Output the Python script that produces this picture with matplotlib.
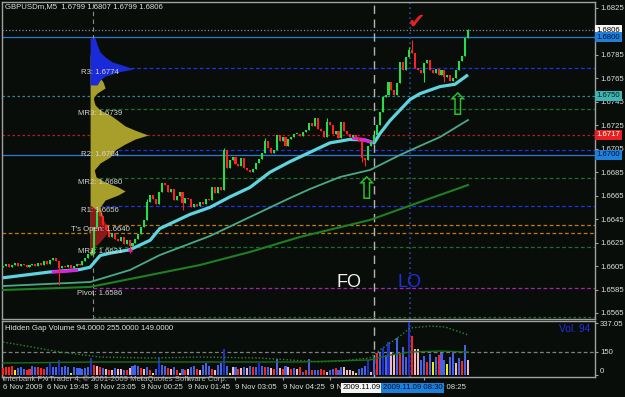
import numpy as np
import matplotlib.pyplot as plt

plt.rcParams['font.family'] = ['Liberation Sans', 'DejaVu Sans']

BG = '#090d09'
BASE = 1.66
PIP = 0.0001
FS = 5.6

# M5 closes, in pips above 1.6600
closes = [5, 7, 4, 6, 8, 5, 7, 6, 4, 6,
          7, 5, 8, 6, 9, 7, 10, 12, 9, 3,
          5, 4, 6, 3, 5, 7, 6, 9, 12, 15,
          17, 38, 52, 48, 40, 36, 30, 33, 28, 26,
          30, 24, 27, 22, 25, 28, 32, 38, 44, 60,
          66, 62, 58, 68, 76, 74, 68, 71, 61, 65,
          68, 59, 63, 62, 55, 58, 56, 60, 58, 62,
          61, 72, 67, 72, 70, 104, 89, 95, 98, 92,
          90, 97, 89, 87, 85, 88, 93, 96, 101, 112,
          106, 101, 104, 117, 112, 115, 107, 113, 115, 118,
          118, 116, 119, 121, 127, 124, 131, 122, 120, 115,
          128, 125, 118, 120, 114, 128, 120, 118, 115, 117,
          114, 112, 97, 95, 107, 111, 117, 125, 136, 149,
          151, 162, 155, 151, 161, 179, 172, 183, 189, 187,
          174, 172, 170, 178, 181, 172, 170, 173, 168, 172,
          166, 168, 163, 165, 172, 180, 184, 199, 206]
first_open = 4
# bars whose wicks reach past the body
wick_highs = {32: 55, 49: 62, 75: 106, 89: 114, 110: 131, 138: 192, 139: 198, 158: 207}
wick_lows = {19: -11, 31: 15, 43: 16, 61: 53, 122: 94, 123: 90, 143: 162, 150: 162}

# moving averages (bar index, pips)
fast_x = [0, 16, 26, 29.6, 33, 36.4, 43.2, 46.6, 50, 53.3, 56.7, 63.5, 70.3, 77.1, 83.9,
          90.7, 97.5, 104.3, 111.1, 117.9, 123, 126.1, 128.1, 131.5, 134.9, 138.3,
          141.7, 148.5, 153.6, 158]
fast_y = [-5, 0, 2, 4, 14, 16, 19, 23, 27, 37, 41, 49, 55, 64, 72,
          85, 94, 102, 110, 113, 112.5, 110, 118, 129, 138, 147,
          152, 158, 160, 168]
mid_x = [0, 29.6, 43.2, 53.3, 70.3, 83.9, 97.5, 104.3, 114.5, 124.7, 134.9, 141.7, 148.5, 158]
mid_y = [-12, -8.6, 1.7, 14.4, 30.6, 46.8, 63, 70.7, 80.9, 86.9, 99.7, 107.4, 115, 129.5]
slow_x = [0, 29.6, 50, 66.9, 83.9, 100.9, 124.7, 141.7, 158]
slow_y = [-15.4, -12.8, -2.6, 5.9, 17, 29.8, 44.3, 59.6, 74.1]
flat_segments = [([16.6, 21, 25.5], [0, 0.5, 1.5]),
                 ([42.5, 43.8], [18.7, 18.7]),
                 ([118.6, 122, 125.7], [114.2, 113, 109.9])]

# volume profile (pips, width in bars)
olive_p = [185, 176.4, 167.9, 161.9, 156.8, 152.5, 148.3, 142.3, 138, 133.8, 129.5, 124.4,
           120.1, 116.7, 113.3, 109.1, 104, 98, 92.9, 86.9, 81, 76.7, 72.4, 69, 65.6,
           61.3, 55.4, 48.5, 40, 31.5, 23, 14.4]
olive_w = [1, 2, 2.7, 4.4, 5.1, 2.4, 1, 1.7, 3.4, 6.8, 9.2, 11.9,
           16, 19.7, 15.3, 11.9, 8.5, 6.8, 3.4, 1.4, 2, 5.1, 9.5, 11.9, 9.5,
           5.1, 3.4, 4.1, 2.4, 2, 1.4, 0.7]
blue_p = [199.4, 193.5, 187.5, 183.2, 179, 175.6, 173, 170.4, 167, 163.6, 159.4]
blue_w = [1.7, 2.4, 3.4, 5.1, 7.5, 11.9, 14.6, 9.5, 5.1, 3.4, 2.4]
red_p = [57.1, 51.1, 44.3, 37.5, 32, 24.7, 18.7]
red_w = [0, 3, 4.5, 6.5, 5.5, 3, 0]

level_names = ["R3", "MR3", "R2", "MR2", "R1", "T's Open", "MR1", "Pivot"]
level_values = [1.6774, 1.6739, 1.6704, 1.6680, 1.6656, 1.6640, 1.6621, 1.6586]
level_colors = ['#2030e8', '#1e6e2a', '#2030e8', '#1e6e2a', '#2030e8', '#c07a10',
                '#1e6e2a', '#b020b0']
full_lines = [1.6806, 1.6800, 1.6750, 1.6717, 1.6700, 1.6633]
full_colors = ['#8888a8', '#2a78d0', '#2a8a9a', '#b02020', '#2a78d0', '#c07a10']
full_styles = [':', '-', (0, (2, 2)), (0, (2, 2)), '-', (0, (3, 2))]
tag_values = [1.6806, 1.6800, 1.6750, 1.6717, 1.6700]
tag_bg = ['#f4f4f4', '#1e80d8', '#40b4b0', '#e82020', '#1e80d8']
tag_fg = ['#000000', '#06103a', '#002020', '#ffffff', '#06103a']

volumes = [45, 55, 50, 60, 30, 45, 50, 42, 35, 38,
           60, 55, 55, 45, 40, 50, 80, 50, 55, 95,
           55, 60, 50, 15, 50, 45, 48, 42, 45, 50,
           110, 65, 60, 50, 45, 40, 35, 30, 45, 40,
           40, 35, 30, 45, 60, 65, 60, 45, 40, 50,
           35, 15, 40, 110, 65, 60, 45, 40, 50, 35,
           15, 40, 35, 40, 55, 60, 40, 35, 65, 80,
           60, 40, 35, 65, 80, 170, 60, 10, 50, 55,
           40, 45, 50, 45, 60, 50, 55, 78, 60, 50,
           55, 45, 40, 104, 45, 40, 60, 50, 40, 45,
           40, 55, 20, 30, 104, 30, 30, 30, 40, 35,
           20, 30, 40, 45, 35, 50, 50, 30, 30, 25,
           15, 40, 45, 60, 100, 20, 117, 143, 143, 176,
           130, 215, 150, 137, 241, 143, 183, 120, 346, 254,
           170, 170, 98, 124, 85, 137, 85, 117, 130, 143,
           98, 72, 117, 150, 78, 111, 90, 196, 98]
vol_kinds = ("rrrrybbbrr" "bbrrrbdbbd" "bbbybbbbbb" "drprbprpbp" "pbrpbbbrpb"
             "rybdbbrpbr" "ybrpbbrpbb" "brpbbdbypb" "rpbpbrbdbr" "bprbprbprb"
             "prbrbrbbrr" "pbbrbbpppp" "ybbbdpbrbd" "bdppbrbbdr" "ppbbrbybrb"
             "bybbpbrbp")
vol_palette = {'b': '#4462e6', 'r': '#ff2222', 'p': '#f2b8c2', 'y': '#eeee10', 'd': '#1c30cc'}
vol_avg_x = [0, 5.8, 19.4, 33, 50, 66.9, 87.3, 107.7, 114.5, 124.7, 128.1, 134.9, 138.3,
             145.1, 150.2, 155.3, 158]
vol_avg_y = [215, 196, 150, 117, 111, 117, 111, 85, 91, 111, 163, 254, 306, 319, 313, 280, 261]
vol_base_x = [0, 33, 66.9, 100.9, 124.7, 131.5, 138.3, 148.5, 158]
vol_base_y = [78, 85, 85, 85, 98, 130, 150, 156, 150]

time_ticks = [0, 15, 31, 47, 63, 79, 95, 111, 143]
time_labels = ["6 Nov 2009", "6 Nov 19:45", "8 Nov 23:05", "9 Nov 00:25", "9 Nov 01:45",
               "9 Nov 03:05", "9 Nov 04:25", "9 Nov 05:45", "9 Nov 08:25"]
price_ticks = [1.6825, 1.6785, 1.6765, 1.6745, 1.6725, 1.6705, 1.6685, 1.6665,
               1.6645, 1.6625, 1.6605, 1.6585, 1.6565]

XMAX = 201.16
SEP_BAR = 30.6
LINE_BARS = [126.1, 138.3]


def px(v):
    return BASE + np.asarray(v, dtype=float) * PIP


def style_axes(a):
    a.set_facecolor(BG)
    for s in a.spines.values():
        s.set_color('#a0a0a0')
        s.set_linewidth(1)
    a.yaxis.tick_right()
    a.tick_params(axis='y', colors='#a0a0a0', labelcolor='#dcdcdc', labelsize=FS,
                  length=2, width=0.8, pad=1.5)


fig = plt.figure(figsize=(6.25, 3.97), dpi=100, facecolor=BG)
ax = fig.add_axes([2 / 625, 1 - 319 / 397, 593 / 625, 317 / 397])
axv = fig.add_axes([2 / 625, 1 - 377 / 397, 593 / 625, 56 / 397])
style_axes(ax)
style_axes(axv)

bars = np.arange(len(closes))
c = np.array(closes, dtype=float)
o = np.concatenate([[first_open], c[:-1]])
hi = np.maximum(o, c)
lo = np.minimum(o, c)
for k, v in wick_highs.items():
    hi[k] = v
for k, v in wick_lows.items():
    lo[k] = v
col = np.where(c >= o, '#24e048', '#ff2020')

ax.set_xlim(-0.34, XMAX)
ax.set_ylim(1.655988, 1.68301)
ax.set_xticks([])
ax.set_yticks(price_ticks)
ax.set_yticklabels([f"{t:.4f}" for t in price_ticks])

# volume profile
ax.fill_betweenx(px(olive_p), SEP_BAR - 1, SEP_BAR - 1 + np.array(olive_w), color='#a89f2a', lw=0, zorder=2)
ax.fill_betweenx(px(blue_p), SEP_BAR - 1, SEP_BAR - 1 + np.array(blue_w), color='#1a2ad8', lw=0, zorder=2.1)
ax.fill_betweenx(px(red_p), SEP_BAR - 1, SEP_BAR - 1 + np.array(red_w), color='#8a1a1a', lw=0, zorder=2.1)

# horizontal levels
for v, cl, ls in zip(full_lines, full_colors, full_styles):
    ax.axhline(v, color=cl, ls=ls, lw=0.9, zorder=1.5)
for name, v, cl in zip(level_names, level_values, level_colors):
    ax.hlines(v, SEP_BAR, XMAX, colors=cl, linestyles=(0, (3, 2)), lw=0.9, zorder=1.5)
    ax.text(33, v - 0.0004, f"{name}: {v:.4f}", ha='center', va='center',
            color='#d4d4d4', fontsize=FS, zorder=7)
ax.hlines(1.6562, SEP_BAR, XMAX, colors='#1e6e2a', linestyles=(0, (2, 2)), lw=0.9)

ax.axvline(SEP_BAR, color='#8c8c8c', ls=(0, (4, 3)), lw=0.8, zorder=1.6)
for a in (ax, axv):
    a.axvline(LINE_BARS[0], color='#b4b4b4', ls=(0, (6, 4)), lw=1, zorder=1.6)
    a.axvline(LINE_BARS[1], color='#2a4aa0', ls=(0, (1, 2)), lw=1.2, zorder=1.6)

# moving averages
ax.plot(slow_x, px(slow_y), color='#1f7f22', lw=1.5, zorder=3)
ax.plot(mid_x, px(mid_y), color='#4aaa86', lw=1.3, zorder=3)
ax.plot(fast_x, px(fast_y), color='#5ed4de', lw=2.3, zorder=3, solid_capstyle='butt')
for sx, sy in flat_segments:
    ax.plot(sx, px(sy), color='#e020e0', lw=2.3, zorder=3.1, solid_capstyle='butt')

# candles
ax.vlines(bars, px(lo), px(hi), colors=col, lw=0.8, zorder=4)
ax.bar(bars, np.maximum(np.abs(c - o), 0.4) * PIP, bottom=px(np.minimum(o, c)),
       width=0.7, color=col, lw=0, zorder=5)

# marks on the chart
ax.text(117.6, px(-8.6), "FO", color='#f2f2f2', fontsize=13, ha='center', va='center')
ax.text(138.2, px(-8.6), "LO", color='#1c2ee8', fontsize=13, ha='center', va='center')
ax.text(140.3, px(213), '\u2714', color='#e82020', fontsize=15, family='DejaVu Sans',
        ha='center', va='center')
ax.text(123.7, px(69.8), '\u21e7', color='#2cc02c', fontsize=22, family='DejaVu Sans',
        ha='center', va='center')
ax.text(154.3, px(140.6), '\u21e7', color='#2cc02c', fontsize=22, family='DejaVu Sans',
        ha='center', va='center')

for v, bg, fg in zip(tag_values, tag_bg, tag_fg):
    ax.text(1.003, v, f"{v:.4f}", transform=ax.get_yaxis_transform(), ha='left', va='center',
            fontsize=FS, color=fg, zorder=10, clip_on=False,
            bbox=dict(boxstyle='square,pad=0.18', fc=bg, ec='none'))

# volume panel
axv.set_xlim(-0.34, XMAX)
axv.set_ylim(-13, 352)
axv.bar(bars, volumes, width=0.7, color=[vol_palette[k] for k in vol_kinds], lw=0, zorder=3)
axv.axhline(150, color='#808080', ls=(0, (3, 2)), lw=0.9, zorder=2)
axv.plot(vol_avg_x, vol_avg_y, color='#2a8a2a', ls=(0, (1, 1.5)), lw=1, zorder=4)
axv.plot(vol_base_x, vol_base_y, color='#1e6a1e', lw=1, zorder=4)
axv.set_yticks([0, 150, 337.05])
axv.set_yticklabels(['0', '150', '337.05'])
axv.get_yticklabels()[0].set_va('bottom')
axv.set_xticks(time_ticks)
axv.set_xticklabels(time_labels, ha='left')
axv.tick_params(axis='x', colors='#a0a0a0', labelcolor='#dcdcdc', labelsize=FS,
                length=2, width=0.8, pad=3)

# date tags of the two vertical lines
axv.text(128.4, -0.19, "2009.11.09", transform=axv.get_xaxis_transform(),
         ha='right', va='center', fontsize=FS, color='#000000', clip_on=False, zorder=10,
         bbox=dict(boxstyle='square,pad=0.2', fc='#f4f4f4', ec='none'))
axv.text(129.0, -0.19, "2009.11.09 08:30", transform=axv.get_xaxis_transform(),
         ha='left', va='center', fontsize=FS, color='#06103a', clip_on=False, zorder=11,
         bbox=dict(boxstyle='square,pad=0.2', fc='#1e80d8', ec='none'))

fig.text(5 / 625, 1 - 7 / 397, "GBPUSDm,M5  1.6799 1.6807 1.6799 1.6806", color='#e0e0e0',
         fontsize=FS, va='center')
fig.text(5 / 625, 1 - 329 / 397, "Hidden Gap Volume 94.0000 255.0000 149.0000",
         color='#e0e0e0', fontsize=FS, va='center')
fig.text(590 / 625, 1 - 329 / 397, "Vol. 94", color='#2030e0', fontsize=7.4,
         ha='right', va='center')
fig.text(3 / 625, 1 - 379 / 397,
         "Interbank FX Trader 4, \u00a9 2001-2009 MetaQuotes Software Corp.",
         color='#b8b8b8', fontsize=FS, va='center')

fig.savefig('out.png', dpi=100, facecolor=BG)
